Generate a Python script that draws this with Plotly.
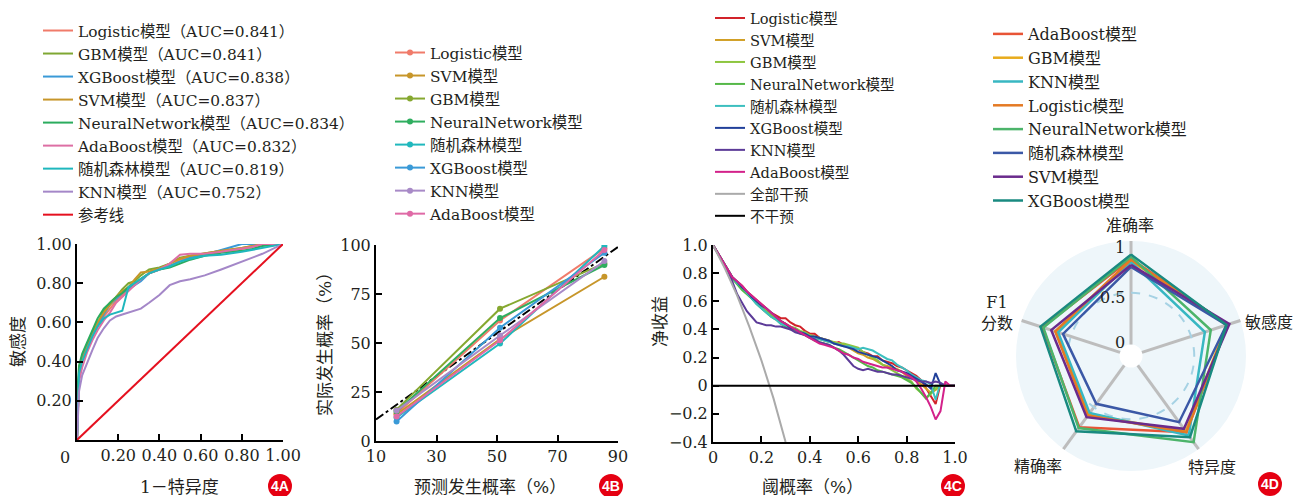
import plotly.graph_objects as go

W, H = 1298, 496
def px(x): return x / W
def py(y): return 1 - y / H

FONT = "DejaVu Serif, Noto Sans CJK SC, serif"
TXT = "#231f20"

# ---------------- Panel A: ROC ----------------
roc_fpr = [0, 0.005, 0.01, 0.025, 0.05, 0.075, 0.10, 0.13, 0.16, 0.19, 0.22, 0.25, 0.28,
           0.31, 0.35, 0.40, 0.45, 0.50, 0.55, 0.62, 0.70, 0.80, 0.85, 0.90, 1.0]
roc_names = ["Logistic模型（AUC=0.841）", "GBM模型（AUC=0.841）", "XGBoost模型（AUC=0.838）",
             "SVM模型（AUC=0.837）", "NeuralNetwork模型（AUC=0.834）", "AdaBoost模型（AUC=0.832）",
             "随机森林模型（AUC=0.819）", "KNN模型（AUC=0.752）"]
roc_colors = ["#f07b6a", "#7fa733", "#3a9ad7", "#c7962a", "#2bac5e", "#dd6fa4", "#1fb7bd", "#a487c8"]
tpr_logistic = [0, 0.25, 0.33, 0.40, 0.47, 0.53, 0.58, 0.63, 0.67, 0.71, 0.74, 0.77, 0.79, 0.82, 0.85, 0.87, 0.885, 0.92, 0.935, 0.945, 0.96, 0.975, 0.985, 1.0, 1.0]
tpr_gbm = [0, 0.22, 0.34, 0.42, 0.49, 0.55, 0.59, 0.66, 0.70, 0.73, 0.77, 0.80, 0.81, 0.84, 0.87, 0.88, 0.90, 0.93, 0.94, 0.95, 0.965, 0.98, 0.99, 1.0, 1.0]
tpr_xgb = [0, 0.28, 0.36, 0.42, 0.48, 0.53, 0.58, 0.64, 0.69, 0.72, 0.75, 0.77, 0.79, 0.81, 0.85, 0.875, 0.89, 0.91, 0.93, 0.945, 0.97, 1.0, 1.0, 1.0, 1.0]
tpr_svm = [0, 0.20, 0.33, 0.41, 0.48, 0.54, 0.60, 0.65, 0.69, 0.73, 0.76, 0.78, 0.82, 0.855, 0.86, 0.875, 0.90, 0.925, 0.94, 0.95, 0.965, 0.98, 0.99, 1.0, 1.0]
tpr_nn = [0, 0.30, 0.38, 0.44, 0.50, 0.56, 0.62, 0.67, 0.70, 0.73, 0.75, 0.78, 0.80, 0.82, 0.85, 0.87, 0.88, 0.90, 0.92, 0.94, 0.955, 0.965, 0.975, 0.99, 1.0]
tpr_ada = [0, 0.18, 0.30, 0.37, 0.45, 0.51, 0.56, 0.61, 0.65, 0.70, 0.73, 0.76, 0.79, 0.82, 0.85, 0.87, 0.90, 0.945, 0.95, 0.95, 0.96, 0.975, 0.985, 1.0, 1.0]
tpr_rf = [0, 0.26, 0.34, 0.40, 0.47, 0.53, 0.58, 0.62, 0.64, 0.65, 0.66, 0.78, 0.80, 0.82, 0.85, 0.87, 0.885, 0.91, 0.925, 0.94, 0.945, 0.96, 0.97, 0.98, 1.0]
tpr_knn = [0, 0.15, 0.25, 0.33, 0.40, 0.46, 0.52, 0.57, 0.61, 0.63, 0.64, 0.65, 0.66, 0.67, 0.70, 0.74, 0.79, 0.81, 0.82, 0.84, 0.87, 0.91, 0.93, 0.95, 1.0]
roc_tprs = [tpr_logistic, tpr_gbm, tpr_xgb, tpr_svm, tpr_nn, tpr_ada, tpr_rf, tpr_knn]
ref_x = [0, 1]
ref_y = [0, 1]

# ---------------- Panel B: calibration ----------------
calib_x = [16.8, 51, 85.5]
calib_names = ["Logistic模型", "SVM模型", "GBM模型", "NeuralNetwork模型", "随机森林模型",
               "XGBoost模型", "KNN模型", "AdaBoost模型"]
calib_colors = ["#f07b6a", "#c7962a", "#86a830", "#2fae5f", "#20b8bd", "#3a9ad7", "#a88ac7", "#df6aa6"]
cal_logistic = [14, 61.5, 98.3]
cal_svm = [13.5, 52, 83.8]
cal_gbm = [16, 67.5, 90.6]
cal_nn = [15, 62.7, 89.8]
cal_rf = [12, 49.7, 99.5]
cal_xgb = [10, 57.8, 96]
cal_knn = [15.5, 53.8, 91.8]
cal_ada = [12.5, 51.4, 97.4]
calib_vals = [cal_logistic, cal_svm, cal_gbm, cal_nn, cal_rf, cal_xgb, cal_knn, cal_ada]
ideal_x = [10, 90]
ideal_y = [11, 99]

# ---------------- Panel C: decision curves (threshold 0, 0.02, ..., 1.00) ----------------
dca_x = [i / 50 for i in range(51)]
dca_names = ["Logistic模型", "SVM模型", "GBM模型", "NeuralNetwork模型", "随机森林模型",
             "XGBoost模型", "KNN模型", "AdaBoost模型"]
dca_colors = ["#d2232a", "#d19f25", "#8dc63f", "#55b848", "#3cbfbf", "#21409a", "#5c3b98", "#d3218a"]
nb_logistic = [1.0, .94, .88, .82, .77, .74, .71, .67, .64, .61, .58, .55, .52, .50, .48, .48, .45, .43, .42, .39, .37, .37, .34, .33, .32, .30, .31, .29, .28, .27, .26, .24, .23, .21, .21, .18, .17, .16, .14, .13, .11, .09, .07, .04, -.02, -.07, -.13, .01, 0, 0, 0]
nb_svm = [1.0, .94, .88, .82, .77, .73, .70, .66, .62, .59, .55, .53, .50, .48, .46, .44, .42, .40, .38, .37, .35, .34, .33, .32, .31, .31, .30, .29, .27, .25, .23, .22, .20, .19, .17, .15, .14, .13, .12, .10, .07, .06, .04, .01, -.02, -.05, -.03, 0, 0, 0, 0]
nb_gbm = [1.0, .94, .88, .82, .77, .73, .69, .66, .62, .59, .56, .53, .51, .48, .46, .44, .42, .41, .39, .38, .36, .35, .34, .33, .32, .31, .30, .30, .29, .28, .27, .24, .22, .20, .18, .15, .13, .11, .09, .07, .05, .03, -.02, -.05, -.09, -.06, -.02, 0, 0, 0, 0]
nb_nn = [1.0, .94, .88, .82, .76, .72, .68, .65, .62, .58, .55, .52, .49, .47, .44, .42, .40, .39, .37, .36, .34, .32, .31, .30, .29, .27, .26, .24, .22, .20, .18, .16, .14, .13, .11, .10, .09, .08, .07, .06, .04, .02, -.01, -.05, -.09, -.05, 0, 0, 0, 0, 0]
nb_rf = [1.0, .94, .88, .82, .77, .73, .70, .66, .62, .58, .55, .52, .49, .47, .44, .43, .41, .40, .38, .37, .35, .34, .33, .32, .31, .30, .29, .28, .28, .27, .26, .27, .26, .25, .23, .21, .19, .18, .15, .13, .11, .08, .06, .04, .03, .01, -.10, .02, 0, 0, 0]
nb_xgb = [1.0, .94, .88, .82, .77, .74, .70, .67, .63, .60, .57, .55, .52, .49, .46, .44, .41, .40, .38, .37, .35, .35, .34, .33, .32, .30, .29, .28, .27, .26, .24, .23, .22, .21, .20, .18, .16, .14, .11, .10, .09, .07, .05, .03, .01, -.02, .09, .01, 0, 0, 0]
nb_knn = [1.0, .94, .88, .82, .74, .65, .59, .53, .49, .45, .44, .43, .43, .42, .42, .41, .40, .38, .37, .36, .34, .33, .31, .30, .29, .27, .25, .22, .18, .14, .12, .11, .12, .11, .10, .10, .09, .08, .08, .07, .06, .05, .04, .03, .03, .02, .03, .02, 0, 0, 0]
nb_ada = [1.0, .94, .88, .82, .77, .74, .71, .67, .64, .61, .58, .55, .52, .49, .46, .44, .42, .40, .38, .36, .34, .32, .30, .29, .28, .27, .25, .23, .22, .20, .19, .17, .16, .15, .14, .13, .13, .12, .11, .10, .08, .06, .03, -.02, -.08, -.15, -.24, -.18, .03, 0, 0]
dca_vals = [nb_logistic, nb_svm, nb_gbm, nb_nn, nb_rf, nb_xgb, nb_knn, nb_ada]
all_x = [0, 0.05, 0.10, 0.15, 0.20, 0.25, 0.30]
all_y = [1.0, 0.83, 0.64, 0.42, 0.18, -0.09, -0.40]
none_x = [0, 1]
none_y = [0, 0]

# ---------------- Panel D: radar ----------------
radar_axes = ["准确率", "敏感度", "特异度", "精确率", "F1分数"]
radar_ticks = [0, 0.5, 1]
radar_tick_text = ["0", "0.5", "1"]
radar_names = ["AdaBoost模型", "GBM模型", "KNN模型", "Logistic模型", "NeuralNetwork模型",
               "随机森林模型", "SVM模型", "XGBoost模型"]
radar_colors = ["#e85436", "#e8ab1c", "#38b7c2", "#e47a24", "#4cb46a", "#3b58a6", "#6a2b8c", "#198a80"]
rad_ada = [0.83, 0.87, 0.80, 0.74, 0.79]
rad_gbm = [0.81, 0.86, 0.79, 0.59, 0.65]
rad_knn = [0.80, 0.64, 0.84, 0.57, 0.63]
rad_logistic = [0.82, 0.87, 0.80, 0.60, 0.66]
rad_nn = [0.85, 0.70, 0.92, 0.75, 0.78]
rad_rf = [0.75, 0.86, 0.68, 0.46, 0.58]
rad_svm = [0.77, 0.89, 0.76, 0.62, 0.70]
rad_xgb = [0.87, 0.86, 0.86, 0.79, 0.81]
radar_vals = [rad_ada, rad_gbm, rad_knn, rad_logistic, rad_nn, rad_rf, rad_svm, rad_xgb]

fig = go.Figure()

# A
for name, col, tpr in zip(roc_names, roc_colors, roc_tprs):
    fig.add_trace(go.Scatter(x=roc_fpr, y=tpr, mode="lines", name=name,
                             line=dict(color=col, width=2), xaxis="x", yaxis="y", legend="legend"))
fig.add_trace(go.Scatter(x=ref_x, y=ref_y, mode="lines", name="参考线",
                         line=dict(color="#e5101f", width=2), xaxis="x", yaxis="y", legend="legend"))

# B
fig.add_trace(go.Scatter(x=ideal_x, y=ideal_y, mode="lines", showlegend=False,
                         line=dict(color="black", width=2, dash="dashdot"), xaxis="x2", yaxis="y2"))
for name, col, v in zip(calib_names, calib_colors, calib_vals):
    fig.add_trace(go.Scatter(x=calib_x, y=v, mode="lines+markers", name=name,
                             line=dict(color=col, width=2), marker=dict(size=6, color=col),
                             xaxis="x2", yaxis="y2", legend="legend2"))

# C
for name, col, v in zip(dca_names, dca_colors, dca_vals):
    fig.add_trace(go.Scatter(x=dca_x, y=v, mode="lines", name=name,
                             line=dict(color=col, width=2), xaxis="x3", yaxis="y3", legend="legend3"))
fig.add_trace(go.Scatter(x=all_x, y=all_y, mode="lines", name="全部干预",
                         line=dict(color="#aaaaaa", width=2), xaxis="x3", yaxis="y3", legend="legend3"))
fig.add_trace(go.Scatter(x=none_x, y=none_y, mode="lines", name="不干预",
                         line=dict(color="black", width=2), xaxis="x3", yaxis="y3", legend="legend3"))

# D
for name, col, v in zip(radar_names, radar_colors, radar_vals):
    fig.add_trace(go.Scatterpolar(r=v + [v[0]], theta=radar_axes + [radar_axes[0]], mode="lines",
                                  name=name, line=dict(color=col, width=2.5), legend="legend4"))

tickfont = dict(family=FONT, size=16, color=TXT)
axis_common = dict(showline=True, linecolor="black", linewidth=2, ticks="inside", ticklen=6,
                   tickwidth=2, tickcolor="black", showgrid=False, zeroline=False, tickfont=tickfont,
                   automargin=False)

legend_common = dict(bgcolor="rgba(0,0,0,0)", borderwidth=0, tracegroupgap=0,
                     xanchor="left", yanchor="top", itemclick=False)

fig.update_layout(
    width=W, height=H, margin=dict(l=0, r=0, t=0, b=0, autoexpand=False),
    paper_bgcolor="white", plot_bgcolor="white",
    font=dict(family=FONT, color=TXT),
    xaxis=dict(domain=[px(77), px(283)], range=[0, 1], anchor="y",
               tickvals=[0.2, 0.4, 0.6, 0.8, 1.0], ticktext=["0.20", "0.40", "0.60", "0.80", "1.00"],
               **axis_common),
    yaxis=dict(domain=[py(440), py(244)], range=[0, 1], anchor="x",
               tickvals=[0.2, 0.4, 0.6, 0.8, 1.0], ticktext=["0.20", "0.40", "0.60", "0.80", "1.00"],
               **axis_common),
    xaxis2=dict(domain=[px(376), px(618)], range=[10, 90], anchor="y2",
                tickvals=[10, 30, 50, 70, 90], **axis_common),
    yaxis2=dict(domain=[py(441), py(245)], range=[0, 100], anchor="x2",
                tickvals=[0, 25, 50, 75, 100], **axis_common),
    xaxis3=dict(domain=[px(713), px(955)], range=[0, 1], anchor="y3",
                tickvals=[0, 0.2, 0.4, 0.6, 0.8, 1.0], ticktext=["0", "0.2", "0.4", "0.6", "0.8", "1.0"],
                **axis_common),
    yaxis3=dict(domain=[py(442), py(245)], range=[-0.4, 1.0], anchor="x3",
                tickvals=[-0.4, -0.2, 0, 0.2, 0.4, 0.6, 0.8, 1.0],
                ticktext=["−0.4", "−0.2", "0", "0.2", "0.4", "0.6", "0.8", "1.0"], **axis_common),
    polar=dict(
        domain=dict(x=[px(1016), px(1246)], y=[py(471), py(241)]),
        hole=0.1, bgcolor="#eef6fa",
        radialaxis=dict(range=[-0.002, 1.002], tickvals=radar_ticks, angle=90,
                        showticklabels=False, showline=False, ticks="",
                        gridcolor="#a6d2e4", gridwidth=2, griddash="dash"),
        angularaxis=dict(direction="clockwise", rotation=90, showline=False, gridcolor="#bdbdbd",
                         gridwidth=3, ticks="", showticklabels=False),
    ),
    legend=dict(x=px(38), y=py(14), font=dict(family=FONT, size=15.4, color=TXT), **legend_common),
    legend2=dict(x=px(390), y=py(36), font=dict(family=FONT, size=15.4, color=TXT), **legend_common),
    legend3=dict(x=px(710), y=py(2), font=dict(family=FONT, size=14.6, color=TXT), **legend_common),
    legend4=dict(x=px(988), y=py(17), font=dict(family=FONT, size=16, color=TXT), **legend_common),
)

def ann(x, y, text, size=17, angle=0, color=TXT, family=FONT, xanchor="center"):
    return dict(x=px(x), y=py(y), text=text, showarrow=False, xref="paper", yref="paper",
                xanchor=xanchor, yanchor="middle", textangle=angle,
                font=dict(family=family, size=size, color=color))

annotations = [
    ann(65, 457, "0", 16),
    ann(18, 342, "敏感度", 17, -90),
    ann(180, 487, "1－特异度", 17),
    ann(325, 340, "实际发生概率（%）", 17, -90),
    ann(490, 487, "预测发生概率（%）", 17),
    ann(660, 322, "净收益", 17, -90),
    ann(812, 487, "阈概率（%）", 17),
]
# radar radial tick labels (left of the vertical spoke)
for txt, ylab in zip(radar_tick_text, [342, 297, 247]):
    annotations.append(ann(1127, ylab, txt, 16, xanchor="right"))
# radar category labels
for txt, (lx, ly) in zip(["准确率", "敏感度", "特异度", "精确率", "F1<br>分数"],
                         [(1130, 226), (1269, 322), (1212, 467), (1038, 466), (997, 313)]):
    annotations.append(ann(lx, ly, txt, 16))
shapes = []
for lab, cx, cy in [("4A", 280, 486), ("4B", 611, 486), ("4C", 953, 486), ("4D", 1270, 484)]:
    shapes.append(dict(type="circle", xref="paper", yref="paper", x0=px(cx - 12), x1=px(cx + 12),
                       y0=py(cy + 12), y1=py(cy - 12), fillcolor="#e50012", line=dict(width=0)))
    annotations.append(ann(cx, cy, "<b>" + lab + "</b>", 14, 0, "white", "Liberation Sans, Arial"))
fig.update_layout(annotations=annotations, shapes=shapes)

fig.write_html("out.html", config={"displayModeBar": False},
               post_script="document.body.style.margin='0';")
